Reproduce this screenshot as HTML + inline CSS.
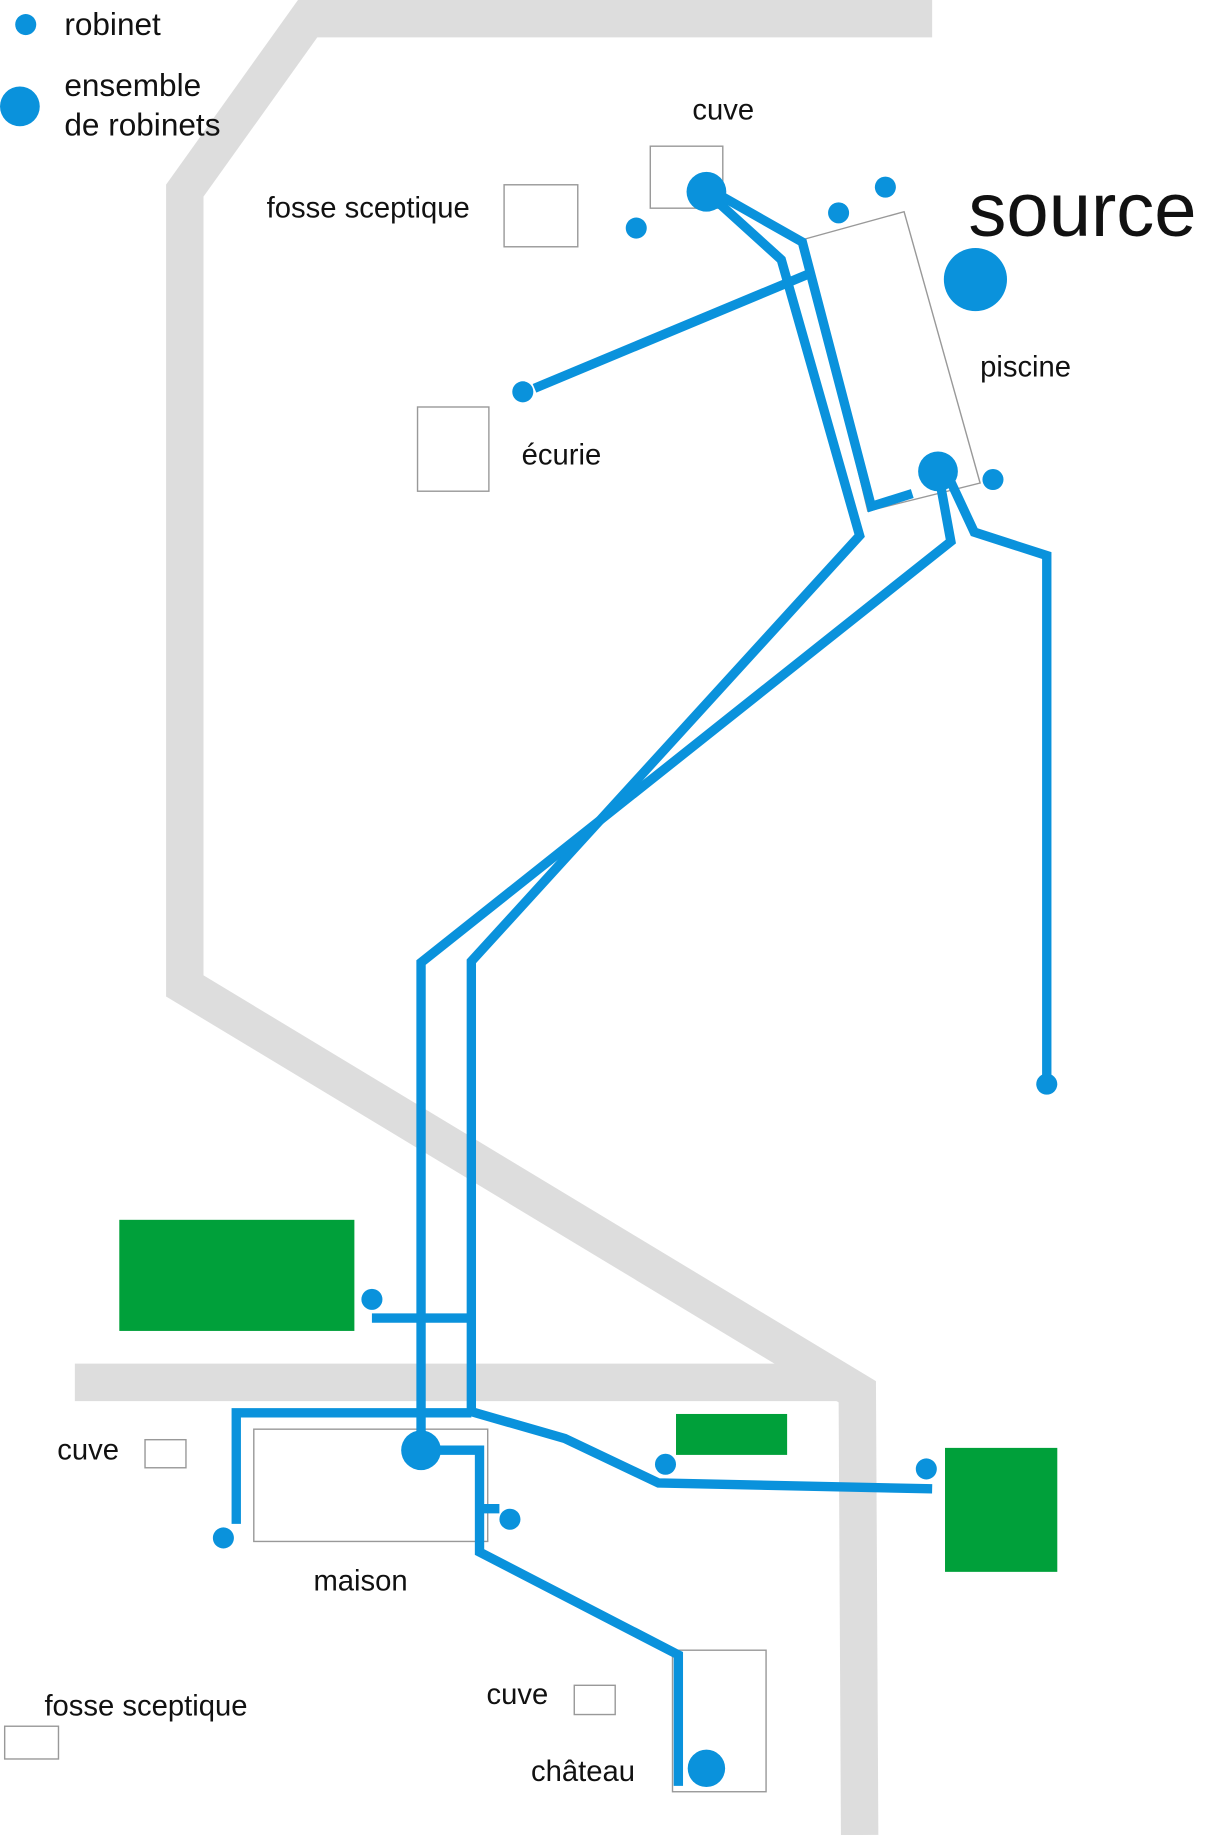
<!DOCTYPE html>
<html><head><meta charset="utf-8"><style>html,body{margin:0;padding:0;background:#fff}svg{display:block}</style></head>
<body>
<svg width="1207" height="1835" viewBox="0 0 1032 1569" preserveAspectRatio="none" xmlns="http://www.w3.org/2000/svg" font-family="Liberation Sans, sans-serif">
<g fill="none" stroke="#dddddd" stroke-width="32">
<polyline points="797,16 263,16 158,163 158,843 733,1190 735,1569"/>
<line x1="64" y1="1182" x2="718" y2="1182"/>
</g>
<g fill="none" stroke="#999" stroke-width="1.2">
<rect x="556" y="125" width="62" height="53"/>
<rect x="431" y="158" width="63" height="53"/>
<rect x="357" y="348" width="61" height="72"/>
<polygon points="686,205 773,181 838,413 742,437"/>
<rect x="124" y="1231" width="35" height="24"/>
<rect x="217" y="1222" width="200" height="96"/>
<rect x="491" y="1441" width="35" height="25"/>
<rect x="4" y="1476" width="46" height="28"/>
<rect x="575" y="1411" width="80" height="121"/>
</g>
<g fill="#00a03a">
<rect x="102" y="1043" width="201" height="95"/>
<rect x="578" y="1209" width="95" height="35"/>
<rect x="808" y="1238" width="96" height="106"/>
</g>
<g fill="none" stroke="#0a92dc" stroke-width="8">
<polyline points="604,164 668,222 735,458 403,822 403,1207 483,1230 563,1268 797,1273"/>
<polyline points="612,165 686,207 745,433 780,422"/>
<line x1="457" y1="332" x2="692" y2="234"/>
<polyline points="802,403 813,463 360,823 360,1240"/>
<polyline points="812,410 833,455 895,475 895,925"/>
<polyline points="202,1303 202,1208 403,1208"/>
<polyline points="360,1240 410,1240 410,1327 580,1415 580,1527"/>
<line x1="410" y1="1290" x2="427" y2="1290"/>
<line x1="318" y1="1127" x2="403" y2="1127"/>
</g>
<g fill="#0a92dc">
<circle cx="22" cy="21" r="9"/><circle cx="17" cy="91" r="17"/>
<circle cx="544" cy="195" r="9"/><circle cx="717" cy="182" r="9"/><circle cx="757" cy="160" r="9"/>
<circle cx="447" cy="335" r="9"/><circle cx="849" cy="410" r="9"/><circle cx="895" cy="927" r="9"/>
<circle cx="318" cy="1111" r="9"/><circle cx="569" cy="1252" r="9"/><circle cx="792" cy="1256" r="9"/>
<circle cx="436" cy="1299" r="9"/><circle cx="191" cy="1315" r="9"/>
<circle cx="834" cy="239" r="27"/><circle cx="604" cy="164" r="17"/><circle cx="802" cy="403" r="17"/>
<circle cx="360" cy="1240" r="17"/><circle cx="604" cy="1512" r="16"/>
</g>
<g fill="#111" font-size="27">
<text x="55" y="30">robinet</text>
<text x="55" y="82">ensemble</text>
<text x="55" y="116">de robinets</text>
<text x="592" y="102" font-size="25">cuve</text>
<text x="228" y="186" font-size="25">fosse sceptique</text>
<text x="828" y="202" font-size="65">source</text>
<text x="838" y="322" font-size="25">piscine</text>
<text x="446" y="397" font-size="25">écurie</text>
<text x="49" y="1248" font-size="25">cuve</text>
<text x="268" y="1360" font-size="25">maison</text>
<text x="416" y="1457" font-size="25">cuve</text>
<text x="38" y="1467" font-size="25">fosse sceptique</text>
<text x="454" y="1523" font-size="25">château</text>
</g>
</svg>
</body></html>
